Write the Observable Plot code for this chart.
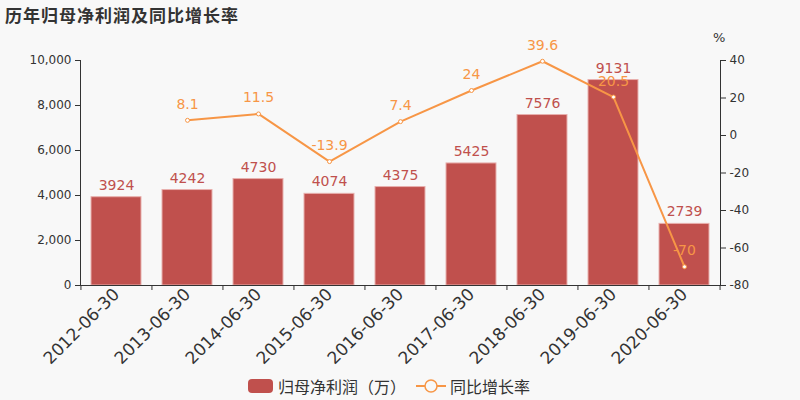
<!DOCTYPE html>
<html><head><meta charset="utf-8">
<script src="https://cdn.jsdelivr.net/npm/d3@7"></script>
<script src="https://cdn.jsdelivr.net/npm/@observablehq/plot@0.6"></script>
<style>
body{margin:0;background:#f8f8f8}
#c{position:relative;width:800px;height:400px;font-family:"DejaVu Sans","Noto Sans CJK SC",sans-serif;color:#333;overflow:hidden}
#title{position:absolute;left:5px;top:2px;font-size:17px;font-weight:bold;color:#333;font-family:"Noto Sans CJK SC",sans-serif;letter-spacing:1px}
#legend{position:absolute;left:248px;top:374px;font-size:16px;color:#333;display:flex;align-items:center;font-family:"Noto Sans CJK SC",sans-serif}
.sw{display:inline-block;width:25px;height:14px;background:#c0504d;border-radius:4px;margin-right:5px}
#pct{position:absolute;left:713px;top:30px;font-size:13px;color:#333}
</style></head><body>
<div id="c"><div id="title">历年归母净利润及同比增长率</div><div id="pct">%</div>
<div id="legend"><span class="sw"></span><span>归母净利润（万）</span>
<svg width="30" height="16" style="margin-left:10px;margin-right:4px"><line x1="0" y1="8" x2="30" y2="8" stroke="#f79646" stroke-width="2"/><circle cx="15" cy="8" r="6" fill="#f8f8f8" stroke="#f79646" stroke-width="1.5"/></svg><span>同比增长率</span></div>
</div>
<script>
const dates = ["2012-06-30","2013-06-30","2014-06-30","2015-06-30","2016-06-30","2017-06-30","2018-06-30","2019-06-30","2020-06-30"];
const profit = [3924,4242,4730,4074,4375,5425,7576,9131,2739];
const growth = [null,8.1,11.5,-13.9,7.4,24,39.6,20.5,-70];
const growthLabels = ["","8.1","11.5","-13.9","7.4","24","39.6","20.5","-70"];
const leftTicks = [0,2000,4000,6000,8000,10000];
const rightTicks = [-80,-60,-40,-20,0,20,40];

const gMin = -80, gMax = 40, yMax = 10000;
const toY = g => (g - gMin) / (gMax - gMin) * yMax;
const fromY = v => Math.round(v / yMax * (gMax - gMin) + gMin);
const rows = dates.map((d,i)=>({date:d, profit:profit[i], growth:growth[i], gl:growthLabels[i]}));
const gRows = rows.filter(r => r.growth != null);
const step = 640 / dates.length;

const chart = Plot.plot({
  width: 800, height: 400,
  marginLeft: 80, marginRight: 80, marginTop: 60, marginBottom: 115,
  style: {background: "transparent", fontFamily: "DejaVu Sans, Noto Sans CJK SC, sans-serif", color: "#333"},
  x: {type: "band", domain: dates, paddingInner: 0.3, paddingOuter: 0.15},
  y: {domain: [0, yMax]},
  marks: [
    Plot.barY(rows, {x: "date", y: "profit", fill: "#c0504d", stroke: "#e8b0ae", strokeWidth: 1}),
    Plot.text(rows, {x: "date", y: "profit", text: d => String(d.profit), dy: -12, fill: "#c0504d", fontSize: 14}),
    Plot.line(gRows, {x: "date", y: d => toY(d.growth), stroke: "#f79646", strokeWidth: 2}),
    Plot.dot(gRows, {x: "date", y: d => toY(d.growth), r: 2, fill: "#fff", stroke: "#f79646", strokeWidth: 1}),
    Plot.text(gRows, {x: "date", y: d => toY(d.growth), text: "gl", dy: -16, fill: "#f79646", fontSize: 14}),
    Plot.ruleY([0], {stroke: "#333"}),
    Plot.frame({anchor: "left", stroke: "#333"}),
    Plot.frame({anchor: "right", stroke: "#333"}),
    Plot.axisY({ticks: leftTicks, tickFormat: d3.format(","), anchor: "left", tickSize: 5, fontSize: 12, label: null, stroke: "#333", fill: "#333"}),
    Plot.axisY({ticks: rightTicks.map(toY), tickFormat: fromY, anchor: "right", tickSize: 5, fontSize: 12, label: null, stroke: "#333", fill: "#333"}),
    Plot.axisX({ticks: dates, text: null, tickSize: 5, dx: -step/2, label: null, stroke: "#333"}),
    Plot.axisX({ticks: [dates[dates.length-1]], text: null, tickSize: 5, dx: step/2, label: null, stroke: "#333"}),
    Plot.axisX({ticks: dates, tickSize: 0, tickRotate: -45, fontSize: 17, label: null, fill: "#333", tickPadding: 6})
  ]
});
document.getElementById("c").prepend(chart);
chart.style.position = "absolute"; chart.style.left = "0"; chart.style.top = "0";
</script></body></html>
